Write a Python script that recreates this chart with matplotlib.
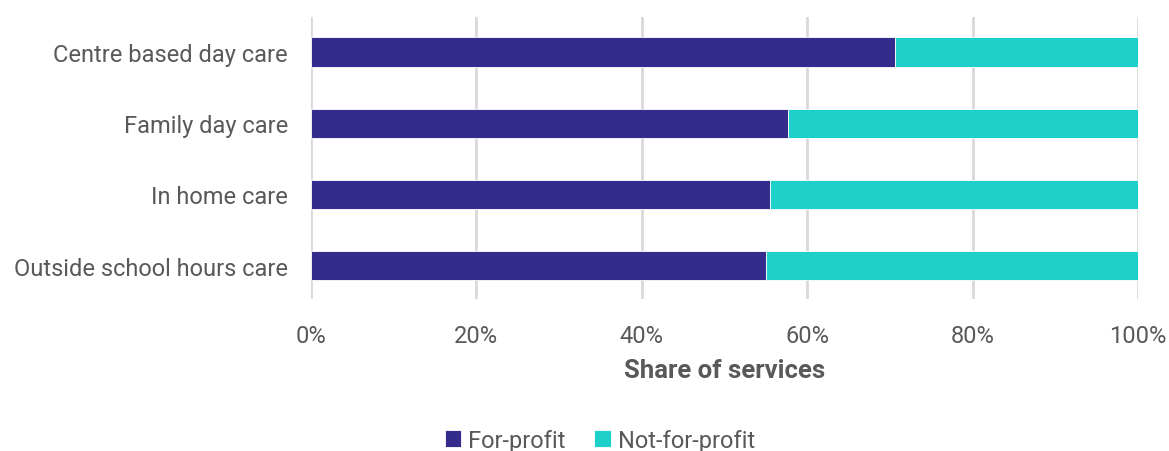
import numpy as np
import matplotlib.pyplot as plt

plt.rcParams['font.family'] = ['Roboto', 'DejaVu Sans']

categories = ['Centre based day care', 'Family day care', 'In home care', 'Outside school hours care']
for_profit = [70.6, 57.7, 55.5, 55.0]
not_for_profit = [100 - v for v in for_profit]
xticks = [0, 20, 40, 60, 80, 100]

dark = '#352B8C'
teal = '#1ED0CA'
grey = '#595959'

fig = plt.figure(figsize=(11.69, 4.52), dpi=100)
ax = fig.add_axes([0.266, 0.336, 0.7075, 0.624])

y = np.arange(len(categories))
ax.barh(y, for_profit, height=0.41, color=dark, edgecolor='white', linewidth=0.6, label='For-profit', zorder=3)
ax.barh(y, not_for_profit, left=for_profit, height=0.41, color=teal, edgecolor='white', linewidth=0.6,
        label='Not-for-profit', zorder=3)

ax.set_xlim(0, 100)
ax.set_ylim(3.47, -0.49)
ax.set_yticks(y)
ax.set_yticklabels(categories, fontsize=17, color=grey)
ax.set_xticks(xticks)
ax.set_xticklabels([f'{t}%' for t in xticks], fontsize=17, color=grey)
ax.tick_params(axis='both', length=0)
ax.tick_params(axis='x', pad=18)
ax.tick_params(axis='y', pad=16.5)
ax.grid(axis='x', color='#d9d9d9', linewidth=2, zorder=0)
for s in ax.spines.values():
    s.set_visible(False)

ax.set_xlabel('Share of services', fontsize=18.5, fontweight='bold', color=grey, labelpad=8)

fig.legend(loc='center', bbox_to_anchor=(0.513, 0.024), ncol=2, frameon=False, fontsize=17,
           handlelength=0.7, handleheight=0.7, handletextpad=0.3, columnspacing=1.2, labelcolor=grey)

fig.savefig('out.png', dpi=100)
